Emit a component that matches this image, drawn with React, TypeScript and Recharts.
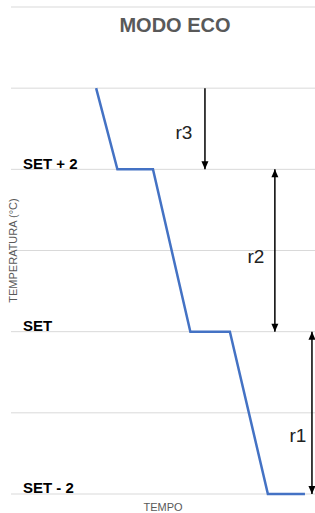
import { LineChart, Line, XAxis, YAxis, CartesianGrid, ReferenceLine, Label } from 'recharts'

// time (arbitrary units) and temperature offset from SET
const tempo = [2.8, 3.5, 4.67, 5.9, 7.2, 8.45, 9.67]
const temperatura = [3, 2, 2, 0, 0, -2, -2]

const yTicks = [-2, -1, 0, 1, 2, 3, 4]
const tickLabels: Record<number, string> = { [-2]: 'SET - 2', 0: 'SET', 2: 'SET + 2' }

const arrowNames = ['r3', 'r2', 'r1']
const arrowX = [6.38, 8.68, 9.9]
const arrowTop = [3, 2, 0]
const arrowBottom = [2, 0, -2]
const arrowDouble = [false, true, true]

const data = tempo.map((t, i) => ({ t, v: temperatura[i] }))

const FONT = '"Liberation Sans", Arial, sans-serif'

const SetTick = (props: any) => {
    const { y, payload } = props
    const txt = tickLabels[payload.value]
    if (!txt) return null
    return (
        <text x={23} y={y - 6} dy="0.35em" fontSize={15} fontWeight={700} fill="#000" fontFamily={FONT}>
            {txt}
        </text>
    )
}

// label offsets for each arrow (px from arrow)
const labelShift = [
    { dx: -21, dy: 4 },
    { dx: -19, dy: 6 },
    { dx: -14, dy: 23 },
]

const arrowShape = (i: number) => (props: any) => {
    const { x1, y1, x2, y2 } = props
    const top = Math.min(y1, y2)
    const bot = Math.max(y1, y2)
    const x = x1
    const h = 8
    const w = 3.5
    return (
        <g>
            <line x1={x} y1={top} x2={x2} y2={bot} stroke="#000" strokeWidth={1.5} />
            <polygon points={`${x - w},${bot - h} ${x + w},${bot - h} ${x},${bot}`} fill="#000" />
            {arrowDouble[i] && (
                <polygon points={`${x - w},${top + h} ${x + w},${top + h} ${x},${top}`} fill="#000" />
            )}
            <text
                x={x + labelShift[i].dx}
                y={(top + bot) / 2 + labelShift[i].dy}
                dy="0.35em"
                textAnchor="middle"
                fontSize={19}
                fill="#222"
                fontFamily={FONT}
            >
                {arrowNames[i]}
            </text>
        </g>
    )
}

export default function App() {
    return (
        <div style={{ position: 'relative', width: 315, height: 513, background: '#fff' }}>
            <style>{`body{margin:0}`}</style>
            <div
                style={{
                    position: 'absolute',
                    left: 0,
                    width: 350,
                    top: 14,
                    textAlign: 'center',
                    fontFamily: FONT,
                    fontWeight: 700,
                    fontSize: 20,
                    color: '#595959',
                    zIndex: 2,
                }}
            >
                MODO ECO
            </div>
            <LineChart width={315} height={513} data={data} margin={{ top: 7, right: 0, bottom: 0, left: 10 }}>
                <CartesianGrid vertical={false} stroke="#D9D9D9" strokeWidth={1} />
                <XAxis
                    dataKey="t"
                    type="number"
                    domain={[0, 10]}
                    height={19}
                    tick={false}
                    tickLine={false}
                    axisLine={false}
                >
                    <Label value="TEMPO" position="insideBottom" offset={2} fontSize={11} fill="#595959" fontFamily={FONT} />
                </XAxis>
                <YAxis
                    type="number"
                    domain={[-2, 4]}
                    ticks={yTicks}
                    width={1}
                    interval={0}
                    axisLine={false}
                    tickLine={false}
                    tick={<SetTick />}
                >
                    <Label
                        value="TEMPERATURA (°C)"
                        angle={-90}
                        position="center"
                        dx={3}
                        fontSize={11}
                        fill="#595959"
                        fontFamily={FONT}
                    />
                </YAxis>
                <Line
                    type="linear"
                    dataKey="v"
                    stroke="#4472C4"
                    strokeWidth={2.5}
                    dot={false}
                    isAnimationActive={false}
                />
                {arrowNames.map((n, i) => (
                    <ReferenceLine
                        key={n}
                        segment={[
                            { x: arrowX[i], y: arrowTop[i] },
                            { x: arrowX[i], y: arrowBottom[i] },
                        ]}
                        shape={arrowShape(i)}
                        ifOverflow="visible"
                    />
                ))}
            </LineChart>
        </div>
    )
}
